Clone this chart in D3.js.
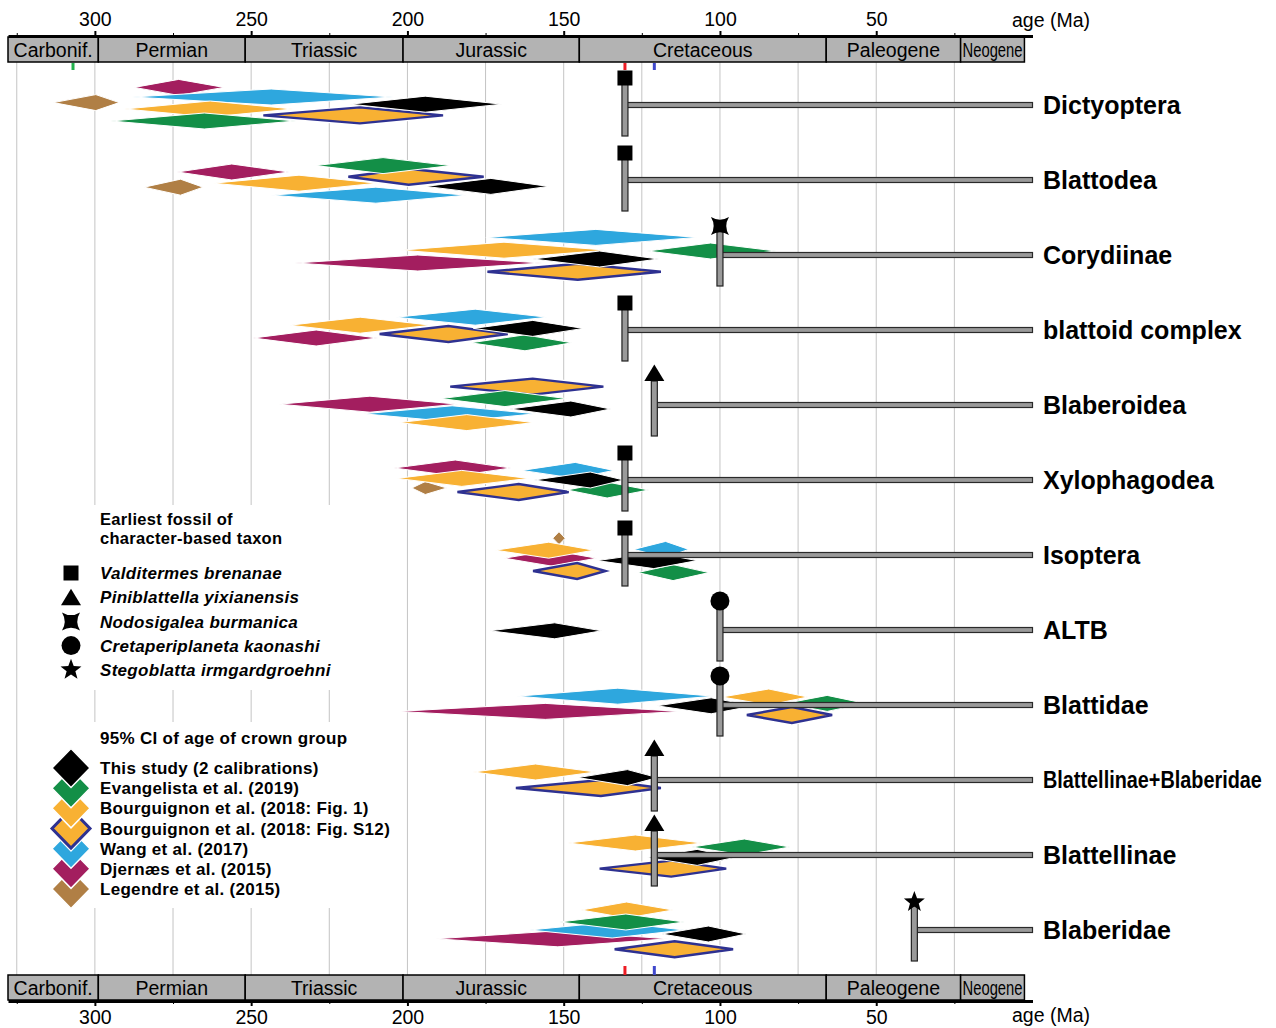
<!DOCTYPE html>
<html>
<head>
<meta charset="utf-8">
<script src="https://cdn.jsdelivr.net/npm/d3@7"></script>
<style>
body { margin: 0; background: #fff; }
svg { display: block; font-family: "Liberation Sans", Arial, sans-serif; }
</style>
</head>
<body>
<div id="chart"></div>
<script>
var taxa = ["Dictyoptera", "Blattodea", "Corydiinae", "blattoid complex", "Blaberoidea", "Xylophagodea",
	"Isoptera", "ALTB", "Blattidae", "Blattellinae+Blaberidae", "Blattellinae", "Blaberidae"];
var fossilShape = ["square", "square", "cross", "square", "triangle", "square", "square", "circle", "circle", "triangle", "triangle", "star"];
var fossilAge = [130.4, 130.4, 100, 130.4, 121, 130.4, 130.4, 100, 100, 121, 121, 37.8];

var fossilKinds = ["square", "triangle", "cross", "circle", "star"];
var fossilNames = ["Valditermes brenanae", "Piniblattella yixianensis", "Nodosigalea burmanica", "Cretaperiplaneta kaonashi", "Stegoblatta irmgardgroehni"];

var studies = ["this", "evang", "bfig1", "bs12", "wang", "djernaes", "legendre"];
var studyNames = ["This study (2 calibrations)", "Evangelista et al. (2019)", "Bourguignon et al. (2018: Fig. 1)",
	"Bourguignon et al. (2018: Fig. S12)", "Wang et al. (2017)", "Djernæs et al. (2015)", "Legendre et al. (2015)"];

var periodNames = ["Carbonif.", "Permian", "Triassic", "Jurassic", "Cretaceous", "Paleogene", "Neogene"];
var periodBounds = [327.8, 298.9, 251.9, 201.4, 145, 66, 23, 2.58];
var majorTicks = [300, 250, 200, 150, 100, 50];
var minorTicks = [325, 275, 225, 175, 125, 75, 25];
var gridAges = [325, 300, 275, 250, 225, 200, 175, 150, 125, 100, 75, 50, 25];
var calibAges = [307, 130.4, 121];

// [study, older bound, estimate, younger bound, lane]
var ciDictyoptera = [["djernaes", 287.4, 273.2, 258.7, -2.2], ["wang", 288, 243.6, 204.7, -1.0], ["legendre", 313.3, 299.7, 292.2, -0.3],
	["this", 218.3, 194.3, 169.7, -0.1], ["bfig1", 290.5, 263.1, 236.6, 0.5], ["bs12", 246.1, 215.2, 188.6, 1.3], ["evang", 294.9, 265.0, 235.7, 2.0]];
var ciBlattodea = [["evang", 229.4, 207.8, 186.1, -1.8], ["djernaes", 273.6, 256.2, 237.9, -1.0], ["bs12", 218.9, 199.6, 175.6, -0.4],
	["bfig1", 262.2, 234.7, 209.7, 0.4], ["legendre", 284.3, 272.6, 265.4, 0.9], ["this", 194.3, 173.3, 154.8, 0.8], ["wang", 243.6, 210.1, 181.1, 1.9]];
var ciCorydiinae = [["wang", 174.9, 139.7, 107.2, -2.2], ["bfig1", 202.2, 169.1, 136.0, -0.6], ["evang", 123.2, 103, 82.1, -0.5],
	["djernaes", 235.9, 196.7, 156.9, 1.0], ["this", 159.9, 138.5, 119.7, 0.5], ["bs12", 174.4, 145.5, 118.9, 2.1]];
var ciBlattoid = [["wang", 203.7, 178.3, 155.3, -1.6], ["bfig1", 237.7, 215.1, 192.4, -0.6], ["this", 178.9, 159.9, 143.7, -0.2],
	["bs12", 208.9, 186.9, 167.9, 0.5], ["djernaes", 249.4, 229.2, 209.6, 1.0], ["evang", 179.8, 162.4, 147.4, 1.6]];
var ciBlaberoidea = [["bs12", 186.3, 159.9, 137.3, -2.3], ["evang", 189.3, 168.8, 149.1, -0.8], ["djernaes", 241.1, 212.0, 183.8, -0.1],
	["this", 167.3, 147.7, 135.0, 0.5], ["wang", 214.1, 185.7, 158.9, 1.1], ["bfig1", 202.6, 181.0, 159.7, 2.2]];
var ciXylophagodea = [["djernaes", 204.3, 184.7, 166.9, -1.5], ["wang", 163.4, 146.3, 134, -1.2], ["bfig1", 203.4, 182.6, 161.2, -0.2],
	["this", 159.4, 141.5, 130.8, 0], ["legendre", 198.6, 194.3, 187.4, 1.0], ["bs12", 184.0, 164.4, 148.4, 1.5], ["evang", 148.9, 136.1, 122.8, 1.25]];
var ciIsoptera = [["legendre", 153.5, 151.5, 149.5, -2.1], ["bfig1", 171.9, 154.8, 140.4, -0.6], ["wang", 127.6, 117.4, 110, -0.7],
	["djernaes", 169.0, 153.7, 139.5, 0.4], ["this", 139.3, 121.2, 107.3, 0.7], ["bs12", 159.8, 145.7, 136.6, 2.0], ["evang", 126.3, 115.0, 103.5, 2.2]];
var ciALTB = [["this", 173.7, 152.9, 137.8, 0.1]];
var ciBlattidae = [["wang", 165.0, 132.7, 102.0, -1.1], ["bfig1", 99.4, 84.4, 71.9, -1.0], ["evang", 79.1, 65.7, 53.5, -0.2],
	["this", 120.2, 102.8, 89.2, 0.1], ["djernaes", 203.2, 155.9, 112.7, 0.8], ["bs12", 91.4, 77.0, 64.1, 1.25]];
var ciBlatBlab = [["bfig1", 178.9, 159.0, 139.8, -1.0], ["this", 145.5, 129.6, 120.0, -0.3], ["bs12", 165.3, 138.1, 118.9, 1.0]];
var ciBlattellinae = [["bfig1", 148.6, 127.1, 105.7, -1.5], ["evang", 109.0, 92.2, 77.6, -1.0], ["this", 123.3, 107.3, 95.2, 0.3], ["bs12", 138.5, 115.6, 98.0, 1.7]];
var ciBlaberidae = [["bfig1", 144.4, 129.9, 115.0, -2.5], ["evang", 151.3, 130.1, 111.4, -1.0], ["wang", 160.9, 134.5, 111.4, 0],
	["djernaes", 191.0, 151.9, 116.7, 1.1], ["this", 118.6, 103.7, 91.6, 0.5], ["bs12", 133.7, 114.5, 95.8, 2.4]];
var ciRows = [ciDictyoptera, ciBlattodea, ciCorydiinae, ciBlattoid, ciBlaberoidea, ciXylophagodea,
	ciIsoptera, ciALTB, ciBlattidae, ciBlatBlab, ciBlattellinae, ciBlaberidae];

(function() {
	var W = 1276, H = 1028;
	var fill = {"this": "#000000", evang: "#138f47", bfig1: "#f8b133", bs12: "#f8b133", wang: "#2ea7de", djernaes: "#a31e5f", legendre: "#b07f45"};
	var drawOrder = ["legendre", "djernaes", "wang", "bfig1", "bs12", "evang", "this"];
	var calibColor = ["#22b14c", "#ed1c24", "#3f48cc"];
	var navy = "#2e3191";

	var x = d3.scaleLinear().domain([327.8, 0]).range([8, 1032.5]);
	var y = d3.scalePoint().domain(taxa).range([105, 930]);
	var lane = d3.scaleLinear().domain([0, 1]).range([0, 8]);

	var svg = d3.select('#chart').append('svg').attr('width', W).attr('height', H);

	svg.append('g').selectAll('line').data(gridAges).enter().append('line')
		.attr('x1', function(d) { return x(d); }).attr('x2', function(d) { return x(d); })
		.attr('y1', 62).attr('y2', 976).attr('stroke', '#c4c4c4').attr('stroke-width', 1);

	// legend backgrounds hide gridlines
	svg.append('rect').attr('x', 40).attr('y', 505).attr('width', 360).attr('height', 185).attr('fill', '#fff');
	svg.append('rect').attr('x', 40).attr('y', 722).attr('width', 360).attr('height', 186).attr('fill', '#fff');

	var periodBar = function(y0, h) {
		var g = svg.append('g');
		var p = periodNames.map(function(n, i) { return {name: n, a: periodBounds[i], b: periodBounds[i + 1]}; });
		g.selectAll('rect').data(p).enter().append('rect')
			.attr('x', function(d) { return x(d.a); }).attr('y', y0)
			.attr('width', function(d) { return x(d.b) - x(d.a); }).attr('height', h)
			.attr('fill', '#b3b3b3').attr('stroke', '#000').attr('stroke-width', 1.5);
		g.selectAll('text').data(p).enter().append('text')
			.attr('x', function(d) { return (x(d.a) + x(d.b)) / 2; }).attr('y', y0 + h / 2)
			.attr('dy', '0.36em').attr('text-anchor', 'middle').attr('font-size', 19.5)
			.attr('textLength', function(d) { return d.name == 'Neogene' ? 60 : null; })
			.attr('lengthAdjust', 'spacingAndGlyphs')
			.text(function(d) { return d.name; });
	};
	periodBar(37, 25);
	periodBar(975, 25);

	var styleAxis = function(g) {
		g.select('.domain').attr('stroke-width', 3);
		g.selectAll('.tick line').attr('stroke-width', 2);
		g.selectAll('text').attr('font-size', 19.5).attr('font-family', '"Liberation Sans", Arial, sans-serif');
	};
	var topAx = svg.append('g').attr('transform', 'translate(0,36)')
		.call(d3.axisTop(x).tickValues(majorTicks).tickSize(5).tickSizeOuter(0).tickPadding(5).tickFormat(d3.format('d')));
	styleAxis(topAx);
	svg.append('g').attr('transform', 'translate(0,36)')
		.call(d3.axisTop(x).tickValues(minorTicks).tickSize(3).tickFormat('')).select('.domain').remove();
	var botAx = svg.append('g').attr('transform', 'translate(0,1001)')
		.call(d3.axisBottom(x).tickValues(majorTicks).tickSize(5).tickSizeOuter(0).tickPadding(4).tickFormat(d3.format('d')));
	styleAxis(botAx);
	svg.append('g').attr('transform', 'translate(0,1001)')
		.call(d3.axisBottom(x).tickValues(minorTicks).tickSize(3).tickFormat('')).select('.domain').remove();
	svg.append('text').attr('x', 1012).attr('y', 27).attr('font-size', 19.5).text('age (Ma)');
	svg.append('text').attr('x', 1012).attr('y', 1022).attr('font-size', 19.5).text('age (Ma)');

	calibAges.forEach(function(a, i) {
		svg.append('rect').attr('x', x(a) - 1.5).attr('y', 63).attr('width', 3).attr('height', 7).attr('fill', calibColor[i]);
		if (i > 0) svg.append('rect').attr('x', x(a) - 1.5).attr('y', 966).attr('width', 3).attr('height', 9).attr('fill', calibColor[i]);
	});

	var diamond = function(d, cy, h) {
		return [[x(d[1]), cy], [x(d[2]), cy - h], [x(d[3]), cy], [x(d[2]), cy + h]].join(' ');
	};

	ciRows.forEach(function(rows, i) {
		var row = y(taxa[i]);
		var sorted = rows.slice().sort(function(a, b) { return drawOrder.indexOf(a[0]) - drawOrder.indexOf(b[0]); });
		var g = svg.append('g');
		sorted.forEach(function(d) {
			var cy = row + lane(d[4]);
			var h = (d[0] == 'legendre' && d[1] - d[3] < 12) ? 6.5 : 8;
			if (d[0] == 'bs12') {
				g.append('polygon').attr('points', diamond(d, cy, h)).attr('fill', 'none').attr('stroke', '#fff').attr('stroke-width', 4.5);
				g.append('polygon').attr('points', diamond(d, cy, h)).attr('fill', fill.bs12).attr('stroke', navy).attr('stroke-width', 2.4);
			} else {
				g.append('polygon').attr('points', diamond(d, cy, h)).attr('fill', fill[d[0]]).attr('stroke', '#fff').attr('stroke-width', 1);
			}
		});
	});

	var starPath = function(R, r) {
		var p = [];
		for (var k = 0; k < 10; k++) {
			var a = -Math.PI / 2 + k * Math.PI / 5, rr = k % 2 ? r : R;
			p.push([rr * Math.cos(a), rr * Math.sin(a)]);
		}
		return 'M' + p.join('L') + 'Z';
	};
	var crossPath = function(r) {
		var c = r * 0.4;
		return 'M' + -r + ',' + -r + 'Q0,' + -c + ' ' + r + ',' + -r + 'Q' + c + ',0 ' + r + ',' + r +
			'Q0,' + c + ' ' + -r + ',' + r + 'Q' + -c + ',0 ' + -r + ',' + -r + 'Z';
	};
	var shapePath = {
		square: 'M-7.5,-7.5H7.5V7.5H-7.5Z',
		triangle: 'M0,-8.5L10,8L-10,8Z',
		cross: crossPath(9),
		circle: d3.symbol().type(d3.symbolCircle).size(Math.PI * 9.5 * 9.5)(),
		star: starPath(11, 4.6)
	};
	var markerDy = {square: -27, triangle: -32, cross: -29, circle: -29, star: -28};

	taxa.forEach(function(t, i) {
		var row = y(t), fx = x(fossilAge[i]), s = fossilShape[i];
		var g = svg.append('g');
		g.append('rect').attr('x', fx).attr('y', row - 2.5).attr('width', x(0) - fx).attr('height', 5)
			.attr('fill', '#9a9a9a').attr('stroke', '#2a2a2a').attr('stroke-width', 1.2);
		g.append('rect').attr('x', fx - 3).attr('y', row - 24).attr('width', 6).attr('height', 55)
			.attr('fill', '#9a9a9a').attr('stroke', '#222').attr('stroke-width', 1.2);
		g.append('path').attr('d', shapePath[s]).attr('transform', 'translate(' + fx + ',' + (row + markerDy[s]) + ')')
			.attr('fill', '#000');
		var lbl = g.append('text').attr('x', 1043).attr('y', row).attr('dy', '0.35em')
			.attr('font-size', 25).attr('font-weight', 'bold').text(t);
		if (t == 'Blattellinae+Blaberidae') {
			// narrow label: squeeze horizontally to fit
			lbl.attr('font-size', 23).attr('x', 0).attr('y', 0);
			var sx = 219 / lbl.node().getComputedTextLength();
			lbl.attr('transform', 'translate(1043,' + row + ') scale(' + sx + ',1)');
		}
	});

	// legend
	var lg = svg.append('g').attr('font-size', 17).attr('font-weight', 'bold').attr('letter-spacing', 0.3);
	lg.append('text').attr('x', 100).attr('y', 525).attr('font-size', 16.5).text('Earliest fossil of');
	lg.append('text').attr('x', 100).attr('y', 544).attr('font-size', 16.5).text('character-based taxon');
	fossilKinds.forEach(function(k, i) {
		var cy = 573 + i * 24.2;
		lg.append('path').attr('d', shapePath[k]).attr('transform', 'translate(71,' + cy + ')')
			.attr('fill', '#000');
		lg.append('text').attr('x', 100).attr('y', cy).attr('dy', '0.36em').attr('font-style', 'italic').text(fossilNames[i]);
	});
	lg.append('text').attr('x', 100).attr('y', 744).text('95% CI of age of crown group');
	var legendY = d3.scalePoint().domain(studies).range([768, 889]);
	studies.slice().reverse().forEach(function(s) {
		var cy = legendY(s);
		var pts = [[52, cy], [71, cy - 19.5], [90, cy], [71, cy + 19.5]].join(' ');
		if (s == 'bs12') {
			lg.append('polygon').attr('points', pts).attr('fill', 'none').attr('stroke', '#fff').attr('stroke-width', 5.5);
			lg.append('polygon').attr('points', pts).attr('fill', fill.bs12).attr('stroke', navy).attr('stroke-width', 3);
		} else {
			lg.append('polygon').attr('points', pts).attr('fill', fill[s]).attr('stroke', '#fff').attr('stroke-width', 1.5);
		}
	});
	studies.forEach(function(s, i) {
		lg.append('text').attr('x', 100).attr('y', legendY(s)).attr('dy', '0.36em').text(studyNames[i]);
	});
})();
</script>
</body>
</html>
